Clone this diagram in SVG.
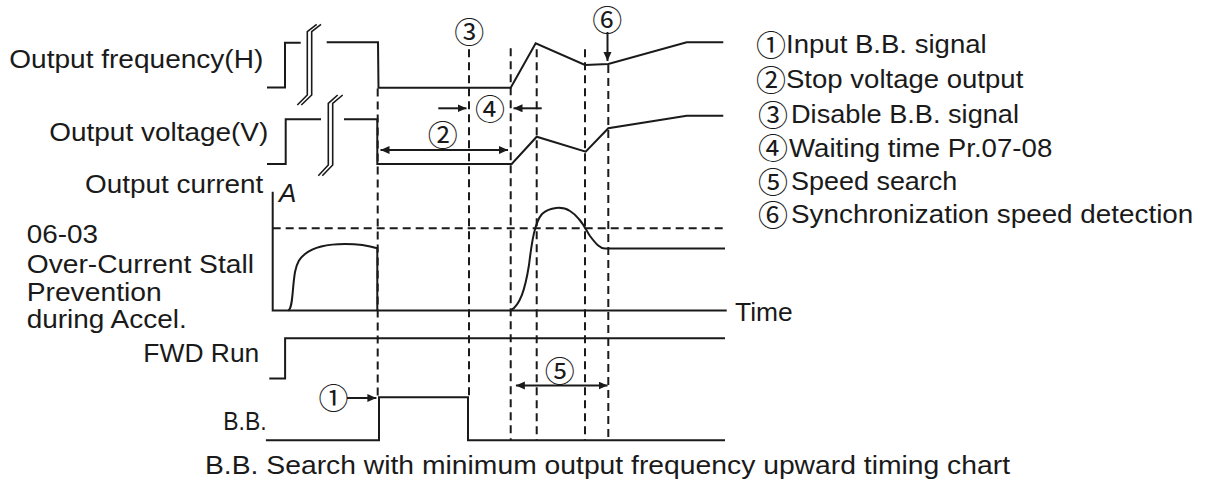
<svg xmlns="http://www.w3.org/2000/svg" width="1208" height="491" viewBox="0 0 1208 491">
<style>
.t{font-family:"Liberation Sans",Arial,sans-serif;font-size:26px;fill:#1a1a1a}
.c{font-family:"Noto Sans CJK SC","DejaVu Sans",sans-serif;font-size:30px;fill:#1a1a1a}
.s{fill:none;stroke:#1a1a1a;stroke-width:2;stroke-linejoin:miter}
.b{fill:none;stroke:#1a1a1a;stroke-width:1.6}
.d{fill:none;stroke:#1a1a1a;stroke-width:2;stroke-dasharray:8 5}
.a{fill:none;stroke:#1a1a1a;stroke-width:2}
</style>
<defs>
<marker id="ah" markerUnits="userSpaceOnUse" markerWidth="10" markerHeight="10" refX="9" refY="4" orient="auto-start-reverse">
<path d="M0,0 L9,4 L0,8 z" fill="#1a1a1a"/>
</marker>
</defs>
<rect width="1208" height="491" fill="#fff"/>

<g id="freq">
<text class="t" x="9.3" y="68.3" textLength="254" lengthAdjust="spacingAndGlyphs">Output frequency(H)</text>
<polyline class="s" points="267,87.5 285,87.5 285,42.7 300.7,42.7"/>
<polyline class="b" points="297.3,105 307.3,95 307.3,31.7 316.7,24.3"/>
<polyline class="b" points="301.3,105 311.7,95 311.7,31.7 321,24.3"/>
<polyline class="s" points="326.7,42.3 378,42.3 378.5,87.7 510.7,87.7 535.7,43.3 585,65 608.3,64 686.7,42.3 723.3,42.3"/>
</g>

<g id="voltage">
<text class="t" x="49.3" y="140.5" textLength="219" lengthAdjust="spacingAndGlyphs">Output voltage(V)</text>
<polyline class="s" points="267,164 285.7,164 285.7,119.3 321,119.3"/>
<polyline class="b" points="318.3,175.7 328.3,165 328.3,103.3 337.7,95"/>
<polyline class="b" points="322.3,175.7 332.7,165 332.7,103.3 342.7,95"/>
<polyline class="s" points="344,119.3 377.3,119.3 377.3,164 511.7,164 536.7,136.7 585.7,151.7 608.3,128.3 686.7,115.7 723.3,115.7"/>
</g>

<g id="current">
<text class="t" x="85" y="193.3" textLength="178.3" lengthAdjust="spacingAndGlyphs">Output current</text>
<text class="t" x="279" y="202" font-style="italic" font-size="22">A</text>
<text class="t" x="26.7" y="243.3" textLength="71.3" lengthAdjust="spacingAndGlyphs">06-03</text>
<text class="t" x="26.7" y="272.7" textLength="227.3" lengthAdjust="spacingAndGlyphs">Over-Current Stall</text>
<text class="t" x="26.7" y="300.7" textLength="135" lengthAdjust="spacingAndGlyphs">Prevention</text>
<text class="t" x="26.7" y="328.3" textLength="160" lengthAdjust="spacingAndGlyphs">during Accel.</text>
<polyline class="s" points="272.7,191.7 272.7,310.5 726.7,310.5"/>
<line class="d" x1="272.7" y1="228.3" x2="725" y2="228.3"/>
<path class="s" d="M288.3,310.5 C293,308 292,290 295,272 C297,262 300,258 305,254 C315,246 330,244 345,244 C360,244 370,246 377.3,248.3 L377.3,310.5"/>
<path class="s" d="M510.7,310.5 C520,305 525,290 529,265 C532,240 535,222 542,214 C550,207 562,206 570,211 C580,217 585,228 590,236 C596,244 600,248.5 605,248.5 L725,248.5"/>
<text class="t" x="735" y="321" textLength="57.7" lengthAdjust="spacingAndGlyphs">Time</text>
</g>

<g id="fwd">
<text class="t" x="143.3" y="362.3" textLength="116" lengthAdjust="spacingAndGlyphs">FWD Run</text>
<polyline class="s" points="269.3,378.4 285.1,378.4 285.1,338.2 725,338.2"/>
</g>

<g id="bb">
<text class="t" x="223.3" y="430" font-size="21" textLength="43.4" lengthAdjust="spacingAndGlyphs">B.B.</text>
<polyline class="s" points="265.9,440.2 379,440.2 379,397.3 468,397.3 468,440.2 725,440.2"/>
</g>

<g id="connectors">
<line class="d" x1="377.7" y1="88.5" x2="377.7" y2="397"/>
<line class="d" x1="469" y1="49.3" x2="469" y2="397"/>
<line class="d" x1="510.7" y1="48.3" x2="510.7" y2="440"/>
<line class="d" x1="536.7" y1="49.3" x2="536.7" y2="440"/>
<line class="d" x1="585" y1="49.3" x2="585" y2="440"/>
<line class="d" x1="608.3" y1="65" x2="608.3" y2="440"/>
<line class="a" x1="380.5" y1="150" x2="508" y2="150" marker-start="url(#ah)" marker-end="url(#ah)"/>
<line class="a" x1="438.3" y1="108.3" x2="466.5" y2="108.3" marker-end="url(#ah)"/>
<line class="a" x1="541.7" y1="108.3" x2="513.5" y2="108.3" marker-end="url(#ah)"/>
<line class="a" x1="607.5" y1="32" x2="607.5" y2="61" marker-end="url(#ah)"/>
<line class="a" x1="347" y1="398" x2="376.4" y2="398" marker-end="url(#ah)"/>
<line class="a" x1="515.9" y1="385.5" x2="607.5" y2="385.5" marker-start="url(#ah)" marker-end="url(#ah)"/>
</g>

<g id="markers">
<text class="c" x="469.3" y="29.7" text-anchor="middle" dominant-baseline="central">③</text>
<text class="c" x="607.3" y="17.8" text-anchor="middle" dominant-baseline="central">⑥</text>
<text class="c" x="490" y="107.3" text-anchor="middle" dominant-baseline="central">④</text>
<text class="c" x="442.7" y="133" text-anchor="middle" dominant-baseline="central">②</text>
<text class="c" x="559.8" y="369" text-anchor="middle" dominant-baseline="central">⑤</text>
<text class="c" x="333.4" y="396" text-anchor="middle" dominant-baseline="central">①</text>
</g>

<g id="legend">
<text class="c" x="771" y="43" text-anchor="middle" dominant-baseline="central">①</text>
<text class="t" x="786" y="53.3" textLength="200.7" lengthAdjust="spacingAndGlyphs">Input B.B. signal</text>
<text class="c" x="771" y="78" text-anchor="middle" dominant-baseline="central">②</text>
<text class="t" x="786" y="88.3" textLength="237.3" lengthAdjust="spacingAndGlyphs">Stop voltage output</text>
<text class="c" x="773" y="113" text-anchor="middle" dominant-baseline="central">③</text>
<text class="t" x="791" y="123.3" textLength="228" lengthAdjust="spacingAndGlyphs">Disable B.B. signal</text>
<text class="c" x="773" y="146.4" text-anchor="middle" dominant-baseline="central">④</text>
<text class="t" x="789" y="156.7" textLength="263.3" lengthAdjust="spacingAndGlyphs">Waiting time Pr.07-08</text>
<text class="c" x="773" y="179.7" text-anchor="middle" dominant-baseline="central">⑤</text>
<text class="t" x="791" y="190" textLength="166.3" lengthAdjust="spacingAndGlyphs">Speed search</text>
<text class="c" x="773" y="213" text-anchor="middle" dominant-baseline="central">⑥</text>
<text class="t" x="791" y="223.3" textLength="402.3" lengthAdjust="spacingAndGlyphs">Synchronization speed detection</text>
</g>

<g id="caption">
<text class="t" x="205" y="474" font-size="25" textLength="805" lengthAdjust="spacingAndGlyphs">B.B. Search with minimum output frequency upward timing chart</text>
</g>
</svg>
